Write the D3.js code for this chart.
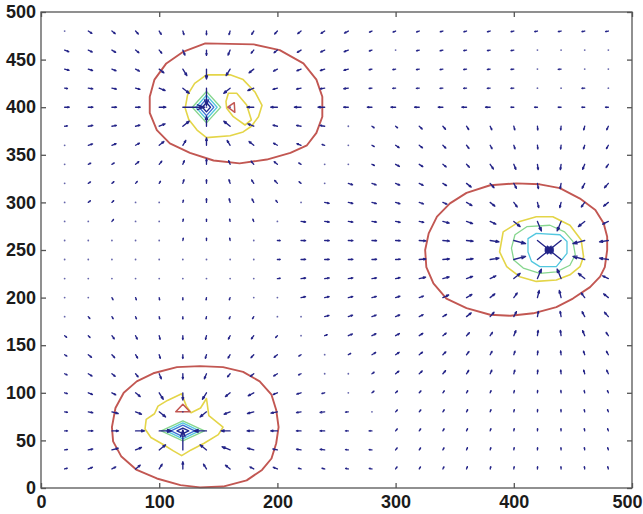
<!DOCTYPE html>
<html>
<head>
<meta charset="utf-8">
<script src="https://cdn.jsdelivr.net/npm/d3@7"></script>
<style>
  html, body { margin: 0; padding: 0; background: #ffffff; }
  svg { display: block; }
</style>
</head>
<body>
<svg id="chart" width="643" height="514"></svg>
<script>
// ---- axis ticks ----
const xTicks = [0, 100, 200, 300, 400, 500];
const yTicks = [0, 50, 100, 150, 200, 250, 300, 350, 400, 450, 500];

// ---- quiver grid ----
const gridX = [20, 40, 60, 80, 100, 120, 140, 160, 180, 200, 220, 240, 260, 280, 300, 320, 340, 360, 380, 400, 420, 440, 460, 480];
const gridY = [480, 460, 440, 420, 400, 380, 360, 340, 320, 300, 280, 260, 240, 220, 200, 180, 160, 140, 120, 100, 80, 60, 40, 20];

// the three wells the arrows lean into
const centerNames = ["A", "B", "C"];
const centerX = [140, 430, 120];
const centerY = [400, 250, 60];

// which well each arrow points at (one row per gridY, one letter per gridX)
const pullRows = [
  "AAAAAAAAAAAAAAAAAAAAAAAA",
  "AAAAAAAAAAAAAAAAAAAAAAAA",
  "AAAAAAAAAAAAAAAAAAAAAAAA",
  "AAAAAAAAAAAAAAAAAAAAAAAA",
  "AAAAAAAAAAAAAAAAAAAAAAAA",
  "AAAAAAAAAAAAABBBBBBBBBBB",
  "AAAAAAAAAAAAABBBBBBBBBBB",
  "AAAAAAAAAAAABBBBBBBBBBBB",
  "AAAAAAAAAAAABBBBBBBBBBBB",
  "AAAAAAAAAAABBBBBBBBBBBBB",
  "AAAAAAAAAABBBBBBBBBBBBBB",
  "AAAAAAAAABBBBBBBBBBBBBBB",
  "AAAAABBBBBBBBBBBBBBBBBBB",
  "CCCCCCBBBBBBBBBBBBBBBBBB",
  "CCCCCCCCCBBBBBBBBBBBBBBB",
  "CCCCCCCCCCBBBBBBBBBBBBBB",
  "CCCCCCCCCCCBBBBBBBBBBBBB",
  "CCCCCCCCCCCCBBBBBBBBBBBB",
  "CCCCCCCCCCCCBBBBBBBBBBBB",
  "CCCCCCCCCCCCCBBBBBBBBBBB",
  "CCCCCCCCCCCCCBBBBBBBBBBB",
  "CCCCCCCCCCCCCCBBBBBBBBBB",
  "CCCCCCCCCCCCCCBBBBBBBBBB",
  "CCCCCCCCCCCCCCBBBBBBBBBB"
];

// arrow magnitude class per grid node (0 = vanishing vector, drawn as a dot)
const magRows = [
  "022222222222211111111111",
  "222223332222210111110000",
  "222234543222211111110100",
  "122234843222211111110010",
  "222238003333222222211111",
  "122234543222011222222222",
  "022233433221012222222222",
  "011222322210012222333332",
  "011112222210222223333333",
  "011001222102222223333333",
  "001001111022222233345543",
  "000001110122222333457754",
  "000000000122222333457754",
  "000000000122222333345543",
  "001111110022222233334433",
  "011111111002222223333333",
  "112222222101222222233332",
  "122222222210122222222222",
  "122233322210012222222222",
  "122344433221011111111111",
  "123340433322101111111111",
  "123450543322111111111111",
  "123349443222111111111111",
  "122334332211111111111111"
];
// magnitude class -> arrow length in data units
const magClasses = [0, 1, 2, 3, 4, 5, 9];
const magLengths = [0, 2.4, 3.9, 5.6, 7.6, 10.5, 21];

// ---- contour lines (data coordinates) ----
const redA = [[139,467],[180,466],[202,460],[222,446],[233,429],[238,411],[238,390],[233,373],[225,360],[211,352],[191,345],[168,341],[146,344],[126,352],[109,362],[98,376],[92,394],[92,411],[96,429],[106,446],[120,458]];
const yellowA = [[140,434],[160,434],[171,429],[181,416],[187,402],[184,390],[178,380],[171,374],[160,370],[140,368],[132,376],[125,387],[122,399],[124,413],[130,425]];
const yellowA2 = [[158.5,414.6],[165.6,414.6],[174,402.3],[178,386.6],[172.6,381.3],[162.7,390],[157.1,398.8],[156.5,406]];
const redA2 = [[158,400],[163.5,404.7],[164,394.6]];
const greenA = [[128,400],[140,416.5],[152,400],[140,383.5]];
const cyanA = [[131,400],[140,412.6],[149,400],[140,387.4]];
const blueA = [[133.8,400],[140,408.8],[146.2,400],[140,391.2]];
const navyA = [[136.6,400],[140,404.9],[143.4,400],[140,395.1]];

const redB = [[380,318],[402,320],[422,319],[439,315],[456,304],[469,292],[476,278],[479,264],[479,250],[477,232],[473,222],[464.5,211],[450,199],[436,190],[416.5,183.5],[397,181],[380,182],[360,189],[343,199],[332,215],[326,232],[325,250],[328,267.5],[335,285],[346,299],[360,310]];
const yellowB = [[391,269],[405,280],[419,285],[433,285],[447.5,276],[457,260.5],[459,243],[456,232.5],[447.5,224],[436,218.5],[419,217],[405,222],[394,232.5],[388,248]];
const greenB = [[401,266],[411,274.5],[430.6,276],[443,269],[450,259],[452,245],[447.5,234],[436,227],[422,225.5],[408,231],[400,239.5],[398,252]];
const cyanB = [[412,262],[419,267.5],[439,266],[445,259],[445,246.5],[436,232.5],[422,232.5],[415,238],[412,248]];
const navyB = [[427,253],[433,253],[433,247],[427,247]];

const redC = [[134.5,128],[154,127],[171,122],[185,112],[195,98],[199,82],[201,64],[199,47],[195,31],[187,19],[174,8],[154,1.5],[134.5,0.7],[118,3],[98,10],[81,19],[68,33],[61,49],[60,64],[63,84],[70,100],[81,112],[95,120.5],[115,127]];
const yellowC = [[119,99],[107,92],[99,86],[96,78],[89,72],[88,62],[93,53],[103,46],[112,39],[119,34],[127,40],[138,47],[150,56],[154,64],[148,70],[142,76],[140,94],[135,84],[127,79],[123,86]];
const redC2 = [[114,80],[120,88],[126,80]];
const greenC = [[101.7,60],[120,70.5],[138.3,60],[120,49.5]];
const cyanC = [[106,60],[120,68.4],[134,60],[120,51.6]];
const blueC = [[110,60],[120,66],[130,60],[120,54]];
const navyC = [[115,60],[120,63],[125,60],[120,57]];

// ---- palette ----
const colRed = "#c25752";
const colYellow = "#e4d548";
const colGreen = "#86d68e";
const colCyan = "#52c7df";
const colBlue = "#3d6fd2";
const colNavy = "#1f2a8f";
const colArrow = "#232387";

// ---- layout ----
const svg = d3.select("#chart");
const x = d3.scaleLinear().domain([0, 500]).range([41, 632]);
const y = d3.scaleLinear().domain([0, 500]).range([488, 12]);
const magScale = d3.scaleLinear().domain(magClasses).range(magLengths);

const plot = svg.append("g");

// contours
const contourLine = d3.line()
  .x(d => x(d[0]))
  .y(d => y(d[1]))
  .curve(d3.curveLinearClosed);

const contourSets = [
  { pts: redA, color: colRed, w: 1.9 },
  { pts: redB, color: colRed, w: 1.9 },
  { pts: redC, color: colRed, w: 1.9 },
  { pts: yellowA, color: colYellow, w: 1.6 },
  { pts: yellowA2, color: colYellow, w: 1.6 },
  { pts: yellowB, color: colYellow, w: 1.6 },
  { pts: yellowC, color: colYellow, w: 1.6 },
  { pts: greenA, color: colGreen, w: 1.3 },
  { pts: greenB, color: colGreen, w: 1.3 },
  { pts: greenC, color: colGreen, w: 1.3 },
  { pts: cyanA, color: colCyan, w: 1.3 },
  { pts: cyanB, color: colCyan, w: 1.3 },
  { pts: cyanC, color: colCyan, w: 1.3 },
  { pts: blueA, color: colBlue, w: 1.3 },
  { pts: blueC, color: colBlue, w: 1.3 },
  { pts: navyA, color: colNavy, w: 1.4 },
  { pts: navyC, color: colNavy, w: 1.4 },
  { pts: redA2, color: colRed, w: 1.5 },
  { pts: redC2, color: colRed, w: 1.5 }
];

plot.append("g").attr("class", "contours")
  .selectAll("path")
  .data(contourSets)
  .join("path")
  .attr("d", d => contourLine(d.pts))
  .attr("fill", "none")
  .attr("stroke", d => d.color)
  .attr("stroke-width", d => d.w)
  .attr("stroke-linejoin", "round");

plot.append("path")
  .attr("d", contourLine(navyB))
  .attr("fill", colNavy)
  .attr("stroke", colNavy)
  .attr("stroke-width", 1.2);

// quiver arrows
const arrows = [];
gridY.forEach((gy, i) => {
  gridX.forEach((gx, j) => {
    const k = Math.max(0, centerNames.indexOf((pullRows[i] || "")[j]));
    const m = +((magRows[i] || "")[j] || 0);
    const dx = centerX[k] - gx, dy = centerY[k] - gy;
    const r = Math.hypot(dx, dy);
    arrows.push({ gx, gy, m, ux: r ? dx / r : 0, uy: r ? dy / r : 0 });
  });
});

function arrowPath(a) {
  const L = magScale(a.m);
  const x0 = x(a.gx), y0 = y(a.gy);
  const x1 = x(a.gx + a.ux * L), y1 = y(a.gy + a.uy * L);
  const vx = x1 - x0, vy = y1 - y0;
  const hl = 0.33, hw = 0.11;
  const bx = x1 - hl * vx, by = y1 - hl * vy;
  const h1x = bx - hw * vy, h1y = by + hw * vx;
  const h2x = bx + hw * vy, h2y = by - hw * vx;
  return `M${x0},${y0}L${x1},${y1}M${h1x},${h1y}L${x1},${y1}L${h2x},${h2y}`;
}

const quiver = plot.append("g").attr("class", "quiver");
quiver.selectAll("path")
  .data(arrows.filter(a => a.m > 0))
  .join("path")
  .attr("d", arrowPath)
  .attr("fill", "none")
  .attr("stroke", colArrow)
  .attr("stroke-width", 1.35)
  .attr("stroke-linecap", "round")
  .attr("stroke-linejoin", "round");

quiver.selectAll("circle")
  .data(arrows.filter(a => a.m === 0))
  .join("circle")
  .attr("cx", a => x(a.gx))
  .attr("cy", a => y(a.gy))
  .attr("r", 0.9)
  .attr("fill", colArrow)
  .attr("opacity", 0.7);

// ---- frame and axes ----
svg.append("rect")
  .attr("x", x(0)).attr("y", y(500))
  .attr("width", x(500) - x(0)).attr("height", y(0) - y(500))
  .attr("fill", "none")
  .attr("stroke", "#555")
  .attr("stroke-width", 1.3);

function styleAxis(g) {
  g.select(".domain").remove();
  g.selectAll(".tick line").attr("stroke", "#555").attr("stroke-width", 1.3);
  g.selectAll(".tick text")
    .attr("font-family", "'Liberation Sans', Arial, Helvetica, sans-serif")
    .attr("font-size", 18)
    .attr("font-weight", "bold")
    .attr("fill", "#1b1b1b");
}

svg.append("g")
  .attr("transform", `translate(0,${y(0)})`)
  .call(d3.axisBottom(x).tickValues(xTicks).tickSizeInner(-5).tickSizeOuter(0).tickPadding(7).tickFormat(d3.format("d")))
  .call(styleAxis)
  // keep the last label inside the canvas
  .call(g => g.selectAll(".tick text").filter(d => d === 500).attr("text-anchor", "end").attr("x", 10));

svg.append("g")
  .attr("transform", `translate(${x(0)},0)`)
  .call(d3.axisLeft(y).tickValues(yTicks).tickSizeInner(-5).tickSizeOuter(0).tickPadding(5).tickFormat(d3.format("d")))
  .call(styleAxis);

svg.append("g")
  .attr("transform", `translate(0,${y(500)})`)
  .call(d3.axisTop(x).tickValues(xTicks).tickSizeInner(-5).tickSizeOuter(0))
  .call(styleAxis)
  .call(g => g.selectAll(".tick text").remove());

svg.append("g")
  .attr("transform", `translate(${x(500)},0)`)
  .call(d3.axisRight(y).tickValues(yTicks).tickSizeInner(-5).tickSizeOuter(0))
  .call(styleAxis)
  .call(g => g.selectAll(".tick text").remove());
</script>
</body>
</html>
